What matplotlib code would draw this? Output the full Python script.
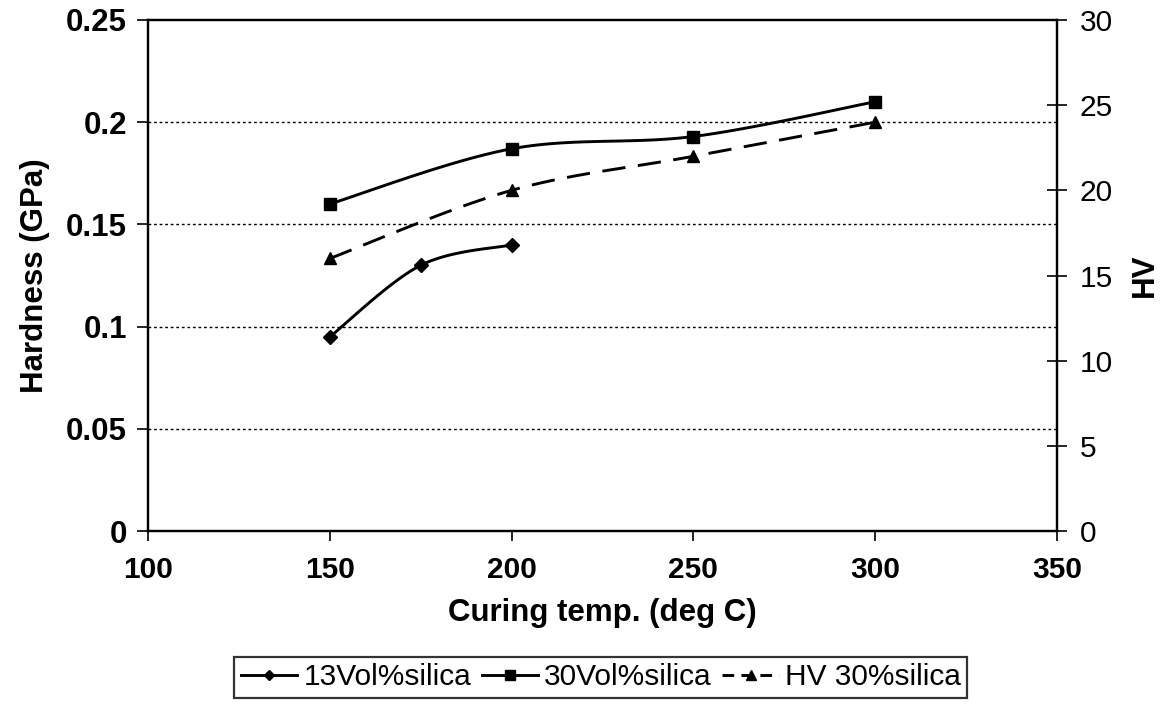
import matplotlib
matplotlib.use("Agg")
import matplotlib.pyplot as plt
from matplotlib.lines import Line2D
import numpy as np

plt.rcParams['font.family'] = ['Liberation Sans', 'DejaVu Sans']

# Data
temp_13 = [150, 175, 200]
hard_13 = [0.095, 0.13, 0.14]
temp_30 = [150, 200, 250, 300]
hard_30 = [0.16, 0.187, 0.193, 0.21]
temp_hv = [150, 200, 250, 300]
hv_30 = [16, 20, 22, 24]

labels = ['13Vol%silica', '30Vol%silica', 'HV 30%silica']


def smooth(x, y, xr, yr, n=40):
    # Excel-like smoothed line (Catmull-Rom Bezier) in normalised coords
    x = np.asarray(x, float) / xr
    y = np.asarray(y, float) / yr
    p = np.column_stack([x, y])
    pts = [p[0]]
    for i in range(len(p) - 1):
        p0 = p[i - 1] if i > 0 else p[i]
        p3 = p[i + 2] if i + 2 < len(p) else p[i + 1]
        c1 = p[i] + (p[i + 1] - p0) / 6
        c2 = p[i + 1] - (p3 - p[i]) / 6
        t = np.linspace(0, 1, n)[1:, None]
        seg = ((1 - t) ** 3 * p[i] + 3 * (1 - t) ** 2 * t * c1
               + 3 * (1 - t) * t ** 2 * c2 + t ** 3 * p[i + 1])
        pts.extend(seg)
    pts = np.array(pts)
    return pts[:, 0] * xr, pts[:, 1] * yr


fig = plt.figure(figsize=(11.62, 7.04), dpi=100)
ax = fig.add_axes([0.1274, 0.2457, 0.7822, 0.7259])
ax2 = ax.twinx()

lw = 2.1
sx, sy = smooth(temp_13, hard_13, 250, 0.25)
ax.plot(sx, sy, color='black', lw=lw)
ax.plot(temp_13, hard_13, 'D', color='black', ms=7, ls='none')

sx, sy = smooth(temp_30, hard_30, 250, 0.25)
ax.plot(sx, sy, color='black', lw=lw)
ax.plot(temp_30, hard_30, 's', color='black', ms=9, ls='none')

sx, sy = smooth(temp_hv, hv_30, 250, 30)
ax2.plot(sx, sy, color='black', lw=lw, ls=(0, (8, 4.3)))
ax2.plot(temp_hv, hv_30, '^', color='black', ms=9, ls='none')

ax.set_xlim(100, 350)
ax.set_ylim(0, 0.25)
ax2.set_ylim(0, 30)
ax.set_xticks([100, 150, 200, 250, 300, 350])
ax.set_yticks([0, 0.05, 0.1, 0.15, 0.2, 0.25])
ax.set_yticklabels(['0', '0.05', '0.1', '0.15', '0.2', '0.25'])
ax2.set_yticks([0, 5, 10, 15, 20, 25, 30])

for yv in [0.05, 0.1, 0.15, 0.2]:
    ax.axhline(yv, color='black', lw=1.0, ls=(0, (2, 2)), zorder=0)

for s in list(ax.spines.values()) + list(ax2.spines.values()):
    s.set_linewidth(1.6)

ax.tick_params(axis='y', direction='out', length=8, width=1.2, pad=7,
               labelsize=22.5)
for t in ax.get_yticklabels():
    t.set_fontweight('bold')
ax.tick_params(axis='x', direction='out', length=7, width=1.2, pad=11,
               labelsize=21.5)
for t in ax.get_xticklabels():
    t.set_fontweight('bold')
ax2.tick_params(axis='y', direction='inout', length=15, width=1.2, pad=9,
                labelsize=21.5)

ax.set_xlabel('Curing temp. (deg C)', fontsize=22.5, fontweight='bold',
              labelpad=10)
ax.set_ylabel('Hardness (GPa)', fontsize=22.5, fontweight='bold', labelpad=12)
ax2.set_ylabel('HV', fontsize=22.5, fontweight='bold', labelpad=12)

handles = [
    Line2D([], [], color='black', lw=lw, marker='D', ms=5),
    Line2D([], [], color='black', lw=lw, marker='s', ms=7),
    Line2D([], [], color='black', lw=lw, marker='^', ms=7, ls=(0, (4, 2.5))),
]
leg = fig.legend(handles, labels, loc='center', bbox_to_anchor=(0.517, 0.038),
                 ncol=3, fontsize=21.5, frameon=True, fancybox=False,
                 handlelength=1.9, handletextpad=0.2, columnspacing=0.35,
                 borderpad=0.22, borderaxespad=0)
leg.get_frame().set_edgecolor('black')
leg.get_frame().set_linewidth(1.6)

fig.savefig('out.png', dpi=100)
